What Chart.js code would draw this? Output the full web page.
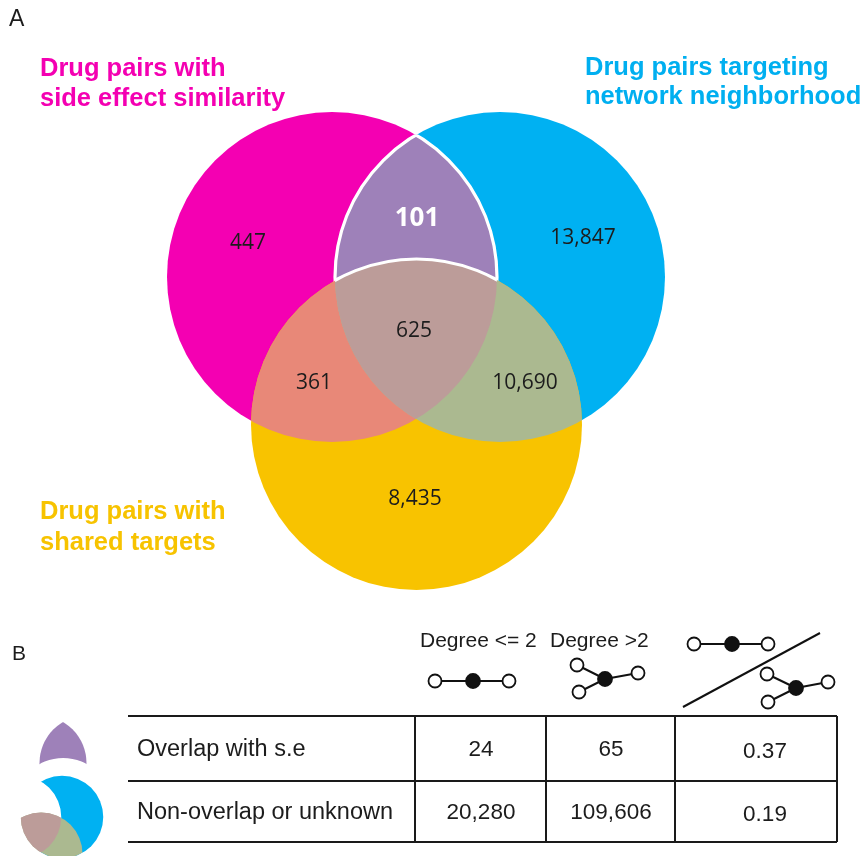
<!DOCTYPE html>
<html><head><meta charset="utf-8">
<script src="https://cdn.jsdelivr.net/npm/chart.js@4/dist/chart.umd.min.js"></script>
<style>html,body{margin:0;padding:0;background:#fff;}canvas{display:block}</style>
</head><body>
<canvas id="c" width="865" height="856"></canvas>
<script>
// ---------------- DATA ----------------
const panelLabels = ["A", "B"];
const setLabels = [["Drug pairs with", "side effect similarity"], ["Drug pairs targeting", "network neighborhood"], ["Drug pairs with", "shared targets"]];
const regionNames = ["SE only", "SE∩Net", "Net only", "SE∩Tgt", "SE∩Net∩Tgt", "Net∩Tgt", "Tgt only"];
const regionCounts = [447, 101, 13847, 361, 625, 10690, 8435];
const tableRowLabels = ["Overlap with s.e", "Non-overlap or unknown"];
const tableColLabels = ["Degree <= 2", "Degree >2"];
const degreeLowCounts = [24, 20280];
const degreeHighCounts = [65, 109606];
const ratioValues = [0.37, 0.19];

// ---------------- LAYOUT / STYLE ----------------
const W = 865, H = 856;
const layout = {
  circles: [[332, 277, 165], [500, 277, 165], [416.5, 424.5, 165.5]],
  regionLabelPos: [[248, 248.5], [417, 226], [583, 243.5], [314, 389], [414, 337], [525, 389], [415, 505]],
  setLabelPos: [[40, 76, 106], [585, 75, 104], [40, 519, 550]],
  panelPos: [[9, 26, 23], [12, 660, 21]],
  tableY: [716, 781, 842],
  tableX: [128, 415, 546, 675, 837],
  rowBaselines: [756, 819],
  rowLabelX: 137,
  colCenters: [481, 611, 765],
  headerX: [420, 550],
  headerBaseline: 647,
  icon1: {ox: 416, oy: 135, ax: 63, ay: 722, s: 0.29},
  icon2: {ox: 500, oy: 277, ax: 62, ay: 817, s: 0.25}
};
const colors = {
  sets: ['#F400B2', '#00B1F2', '#F8C300'],
  setText: ['#F400B2', '#00AFF0', '#F7C300'],
  mb: '#9E81B9', my: '#E88878', by: '#ABB990', mby: '#BC9C99',
  ink: '#1c1c1c'
};

// ---------------- HELPERS ----------------
function circlesPx(chart, T) {
  const xs = chart.scales.x, ys = chart.scales.y;
  return layout.circles.map(([x, y, r]) => {
    const X = T ? T.ax + (x - T.ox) * T.s : x;
    const Y = T ? T.ay + (y - T.oy) * T.s : y;
    const RR = T ? r * T.s : r;
    return [xs.getPixelForValue(X), ys.getPixelForValue(Y), Math.abs(xs.getPixelForValue(RR) - xs.getPixelForValue(0))];
  });
}
function clipIn(ctx, c) { ctx.beginPath(); ctx.arc(c[0], c[1], c[2], 0, Math.PI * 2); ctx.clip(); }
function clipOut(ctx, c) {
  ctx.beginPath(); ctx.rect(0, 0, W, H);
  ctx.moveTo(c[0] + c[2], c[1]); ctx.arc(c[0], c[1], c[2], 0, Math.PI * 2, true);
  ctx.clip('evenodd');
}
function fillRegion(ctx, cs, inc, exc, color) {
  ctx.save();
  inc.forEach(i => clipIn(ctx, cs[i]));
  exc.forEach(i => clipOut(ctx, cs[i]));
  ctx.fillStyle = color; ctx.fillRect(0, 0, W, H);
  ctx.restore();
}
function strokeCircleClipped(ctx, cs, target, inc, exc, color, lw) {
  ctx.save();
  inc.forEach(i => clipIn(ctx, cs[i]));
  exc.forEach(i => clipOut(ctx, cs[i]));
  ctx.beginPath(); ctx.arc(cs[target][0], cs[target][1], cs[target][2], 0, Math.PI * 2);
  ctx.strokeStyle = color; ctx.lineWidth = lw; ctx.stroke();
  ctx.restore();
}
function node(ctx, x, y, filled) {
  ctx.beginPath(); ctx.arc(x, y, filled ? 7 : 6.5, 0, Math.PI * 2);
  ctx.fillStyle = filled ? '#111' : '#fff'; ctx.fill();
  ctx.lineWidth = 1.8; ctx.strokeStyle = '#111'; ctx.stroke();
}
function edge(ctx, a, b) {
  ctx.beginPath(); ctx.moveTo(a[0], a[1]); ctx.lineTo(b[0], b[1]);
  ctx.lineWidth = 2; ctx.strokeStyle = '#111'; ctx.stroke();
}
function chainIcon(ctx, pts) { // pts[1] is center
  edge(ctx, pts[0], pts[2]);
  node(ctx, pts[0][0], pts[0][1], false); node(ctx, pts[2][0], pts[2][1], false); node(ctx, pts[1][0], pts[1][1], true);
}
function starIcon(ctx, c, leaves) {
  leaves.forEach(l => edge(ctx, c, l));
  leaves.forEach(l => node(ctx, l[0], l[1], false));
  node(ctx, c[0], c[1], true);
}

// ---------------- PLUGIN ----------------
const vennPlugin = {
  id: 'venn',
  beforeDatasetsDraw(chart) {
    const ctx = chart.ctx;
    const cs = circlesPx(chart, null);
    // main Venn
    fillRegion(ctx, cs, [0], [], colors.sets[0]);
    fillRegion(ctx, cs, [1], [], colors.sets[1]);
    fillRegion(ctx, cs, [0, 1], [], colors.mb);
    fillRegion(ctx, cs, [2], [], colors.sets[2]);
    fillRegion(ctx, cs, [0, 2], [], colors.my);
    fillRegion(ctx, cs, [1, 2], [], colors.by);
    fillRegion(ctx, cs, [0, 1, 2], [], colors.mby);
    // white outline of the SE∩Net-only region
    strokeCircleClipped(ctx, cs, 0, [1], [2], '#fff', 3.2);
    strokeCircleClipped(ctx, cs, 1, [0], [2], '#fff', 3.2);
    strokeCircleClipped(ctx, cs, 2, [0, 1], [], '#fff', 3.2);
    // small icons in panel B
    const c1 = circlesPx(chart, layout.icon1);
    fillRegion(ctx, c1, [0, 1], [2], colors.mb);
    const c2 = circlesPx(chart, layout.icon2);
    fillRegion(ctx, c2, [1], [0], colors.sets[1]);
    fillRegion(ctx, c2, [1, 2], [], colors.by);
    fillRegion(ctx, c2, [0, 1, 2], [], colors.mby);
  },
  afterDatasetsDraw(chart) {
    const ctx = chart.ctx;
    const xs = chart.scales.x, ys = chart.scales.y;
    const px = v => xs.getPixelForValue(v), py = v => ys.getPixelForValue(v);
    ctx.save();
    // panel letters
    ctx.fillStyle = colors.ink; ctx.textAlign = 'left'; ctx.textBaseline = 'alphabetic';
    panelLabels.forEach((t, i) => {
      const p = layout.panelPos[i];
      ctx.font = p[2] + 'px "Liberation Sans", Arial, sans-serif';
      ctx.fillText(t, px(p[0]), py(p[1]));
    });
    // set labels
    ctx.font = 'bold 25.5px "Liberation Sans", Arial, sans-serif';
    setLabels.forEach((lines, i) => {
      const p = layout.setLabelPos[i];
      ctx.fillStyle = colors.setText[i];
      ctx.fillText(lines[0], px(p[0]), py(p[1]));
      ctx.fillText(lines[1], px(p[0]), py(p[2]));
    });
    // region counts from dataset points
    const meta = chart.getDatasetMeta(0);
    ctx.textAlign = 'center';
    meta.data.forEach((el, i) => {
      const v = regionCounts[i];
      if (i === 1) { ctx.font = 'bold 26px "Open Sans", sans-serif'; ctx.fillStyle = '#fff'; }
      else { ctx.font = '21px "Open Sans", sans-serif'; ctx.fillStyle = colors.ink; }
      ctx.fillText(v.toLocaleString('en-US'), el.x, el.y);
    });
    // table
    ctx.strokeStyle = '#1a1a1a'; ctx.lineWidth = 2;
    const tx = layout.tableX, ty = layout.tableY;
    ty.forEach(y => { ctx.beginPath(); ctx.moveTo(px(tx[0]), py(y)); ctx.lineTo(px(tx[4]), py(y)); ctx.stroke(); });
    tx.slice(1).forEach(x => { ctx.beginPath(); ctx.moveTo(px(x), py(ty[0])); ctx.lineTo(px(x), py(ty[2])); ctx.stroke(); });
    ctx.fillStyle = colors.ink;
    ctx.font = '23.5px "Liberation Sans", Arial, sans-serif';
    ctx.textAlign = 'left';
    tableRowLabels.forEach((t, i) => ctx.fillText(t, px(layout.rowLabelX), py(layout.rowBaselines[i])));
    ctx.font = '22.5px "Liberation Sans", Arial, sans-serif';
    ctx.textAlign = 'center';
    tableRowLabels.forEach((t, i) => {
      const y = py(layout.rowBaselines[i]);
      ctx.fillText(degreeLowCounts[i].toLocaleString('en-US'), px(layout.colCenters[0]), y);
      ctx.fillText(degreeHighCounts[i].toLocaleString('en-US'), px(layout.colCenters[1]), y);
      ctx.fillText(ratioValues[i].toFixed(2), px(layout.colCenters[2]), y + 2);
    });
    // header labels
    ctx.font = '21px "Liberation Sans", Arial, sans-serif';
    ctx.textAlign = 'left';
    tableColLabels.forEach((t, i) => ctx.fillText(t, px(layout.headerX[i]), py(layout.headerBaseline)));
    // header graph icons
    const P = (x, y) => [px(x), py(y)];
    chainIcon(ctx, [P(435, 681), P(473, 681), P(509, 681)]);
    starIcon(ctx, P(605, 679), [P(577, 665), P(579, 692), P(638, 673)]);
    chainIcon(ctx, [P(694, 644), P(732, 644), P(768, 644)]);
    edge(ctx, P(683, 707), P(820, 633));
    starIcon(ctx, P(796, 688), [P(767, 674), P(768, 702), P(828, 682)]);
    ctx.restore();
  }
};

const regionPoints = regionCounts.map((v, i) => ({x: layout.regionLabelPos[i][0], y: layout.regionLabelPos[i][1], v: v, name: regionNames[i]}));

new Chart(document.getElementById('c'), {
  type: 'scatter',
  data: {datasets: [{label: 'Venn region counts', data: regionPoints, pointRadius: 0, pointHoverRadius: 0}]},
  options: {
    responsive: false, animation: false, devicePixelRatio: 1, events: [],
    layout: {padding: 0},
    plugins: {legend: {display: false}, tooltip: {enabled: false}},
    scales: {
      x: {type: 'linear', min: 0, max: W, display: false},
      y: {type: 'linear', min: 0, max: H, reverse: true, display: false}
    }
  },
  plugins: [vennPlugin]
});
</script>
</body></html>
